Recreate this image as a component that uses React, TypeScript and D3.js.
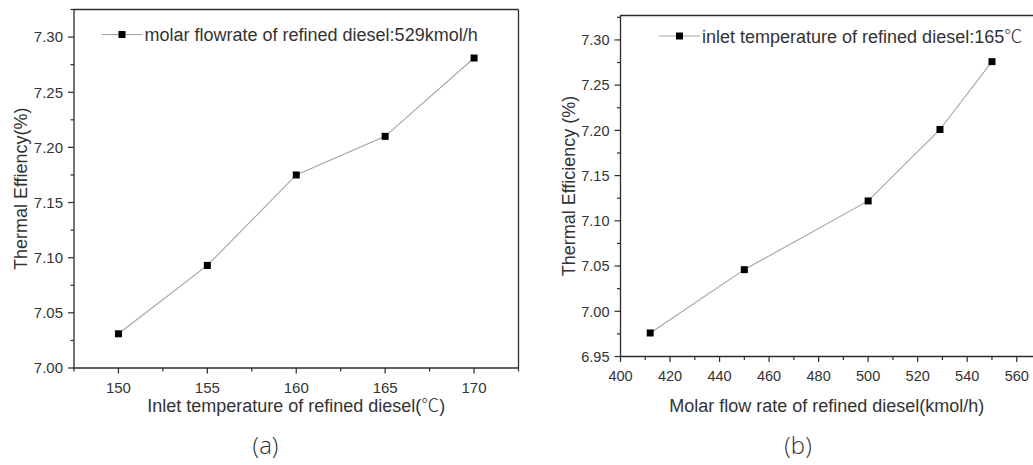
import React from "react";
import * as d3 from "d3";

// Panel (a): thermal efficiency vs inlet temperature
const tempValues = [150, 155, 160, 165, 170];
const effByTemp = [7.031, 7.093, 7.175, 7.21, 7.281];
const tempTicks = [150, 155, 160, 165, 170];
const effTicksA = [7.0, 7.05, 7.1, 7.15, 7.2, 7.25, 7.3];

// Panel (b): thermal efficiency vs molar flow rate
const flowValues = [412, 450, 500, 529, 550];
const effByFlow = [6.976, 7.046, 7.122, 7.201, 7.276];
const flowTicks = [400, 420, 440, 460, 480, 500, 520, 540, 560];
const effTicksB = [6.95, 7.0, 7.05, 7.1, 7.15, 7.2, 7.25, 7.3];

const FONT = "'Liberation Sans', Arial, sans-serif";
const CJK = "'Noto Sans CJK SC', sans-serif";
const TXT = "#333";

function withCelsius(s: string) {
  const parts = s.split("℃");
  const out: React.ReactNode[] = [];
  parts.forEach((part, i) => {
    out.push(<tspan key={"p" + i}>{part}</tspan>);
    if (i < parts.length - 1)
      out.push(
        <tspan key={"c" + i} fontFamily={CJK} fontWeight={300}>
          ℃
        </tspan>
      );
  });
  return out;
}

type PanelProps = {
  xs: number[];
  ys: number[];
  left: number;
  right: number;
  top: number;
  bottom: number;
  xDomain: [number, number];
  yDomain: [number, number];
  xTicks: number[];
  xMinorStep: number;
  yTicks: number[];
  yMinorStep: number;
  rightBorder: boolean;
  xTitle: string;
  yTitle: string;
  yTitleX: number;
  legendText: string;
  legendX: number;
  legendY: number;
  tag: string;
  tagX: number;
  yFontSize: number;
  xLabelOffset: number;
};

function Panel(p: PanelProps) {
  const x = d3.scaleLinear().domain(p.xDomain).range([p.left, p.right]);
  const y = d3.scaleLinear().domain(p.yDomain).range([p.bottom, p.top]);
  const line = d3
    .line<number>()
    .x((_, i) => x(p.xs[i]))
    .y((d) => y(d));

  const xMinor: number[] = [];
  for (let v = p.xTicks[0] - p.xMinorStep; v <= p.xDomain[1] + 1e-9; v += p.xMinorStep) {
    if (v >= p.xDomain[0] - 1e-9 && !p.xTicks.some((t) => Math.abs(t - v) < 1e-9)) xMinor.push(v);
  }
  const yMinor: number[] = [];
  for (let v = p.yTicks[0] - p.yMinorStep; v <= p.yDomain[1] + 1e-9; v += p.yMinorStep) {
    if (v >= p.yDomain[0] - 1e-9 && !p.yTicks.some((t) => Math.abs(t - v) < 1e-9)) yMinor.push(v);
  }
  const axisColor = "#2b2b2b";
  const ms = 7;
  const midX = (p.left + Math.min(p.right, p.rightBorder ? p.right : 1033)) / 2;

  return (
    <g>
      {/* frame */}
      <line x1={p.left} x2={p.left} y1={p.top} y2={p.bottom + 0.6} stroke={axisColor} strokeWidth={1.3} />
      <line x1={p.left - 0.6} x2={p.right} y1={p.bottom} y2={p.bottom} stroke={axisColor} strokeWidth={1.3} />
      <line x1={p.left - 0.6} x2={p.right} y1={p.top} y2={p.top} stroke={axisColor} strokeWidth={1.3} />
      {p.rightBorder && (
        <line x1={p.right} x2={p.right} y1={p.top} y2={p.bottom} stroke={axisColor} strokeWidth={1.3} />
      )}
      {/* y ticks */}
      {p.yTicks.map((t) => (
        <g key={"yt" + t}>
          <line x1={p.left - 6} x2={p.left} y1={y(t)} y2={y(t)} stroke={axisColor} strokeWidth={1.2} />
          <text x={p.left - 11} y={y(t) + 5.3} textAnchor="end" fontFamily={FONT} fontSize={p.yFontSize} fill={TXT}>
            {t.toFixed(2)}
          </text>
        </g>
      ))}
      {yMinor.map((t) => (
        <line key={"ym" + t} x1={p.left - 3.5} x2={p.left} y1={y(t)} y2={y(t)} stroke={axisColor} strokeWidth={1.2} />
      ))}
      {/* x ticks */}
      {p.xTicks.map((t) => (
        <g key={"xt" + t}>
          <line x1={x(t)} x2={x(t)} y1={p.bottom} y2={p.bottom + 5.5} stroke={axisColor} strokeWidth={1.2} />
          <text x={x(t)} y={p.bottom + p.xLabelOffset} textAnchor="middle" fontFamily={FONT} fontSize={p.yFontSize} fill={TXT}>
            {t}
          </text>
        </g>
      ))}
      {xMinor.map((t) => (
        <line key={"xm" + t} x1={x(t)} x2={x(t)} y1={p.bottom} y2={p.bottom + 3.5} stroke={axisColor} strokeWidth={1.2} />
      ))}
      {/* series */}
      <path d={line(p.ys) || ""} fill="none" stroke="#a3a3a3" strokeWidth={1.1} />
      {p.ys.map((v, i) => (
        <rect key={"m" + i} x={x(p.xs[i]) - ms / 2} y={y(v) - ms / 2} width={ms} height={ms} fill="#000" />
      ))}
      {/* legend */}
      <line x1={p.legendX} x2={p.legendX + 41} y1={p.legendY} y2={p.legendY} stroke="#a3a3a3" strokeWidth={1.1} />
      <rect x={p.legendX + 20.5 - ms / 2} y={p.legendY - ms / 2} width={ms} height={ms} fill="#000" />
      <text x={p.legendX + 43} y={p.legendY + 6.5} fontFamily={FONT} fontSize={18} fill={TXT}>
        {withCelsius(p.legendText)}
      </text>
      {/* titles */}
      <text x={midX} y={412} textAnchor="middle" fontFamily={FONT} fontSize={18} fill={TXT}>
        {withCelsius(p.xTitle)}
      </text>
      <text
        transform={`translate(${p.yTitleX},${(p.top + p.bottom) / 2}) rotate(-90)`}
        textAnchor="middle"
        fontFamily={FONT}
        fontSize={18}
        fill={TXT}
      >
        {p.yTitle}
      </text>
      <text x={p.tagX} y={454} textAnchor="middle" fontFamily="'Open Sans', 'Noto Sans', sans-serif" fontWeight={300} fontSize={24} fill={TXT}>
        {p.tag}
      </text>
    </g>
  );
}

export default function App() {
  return (
    <svg width={1033} height={465} style={{ position: "absolute", left: 0, top: 0, background: "#fff" }}>
      <Panel
        xs={tempValues}
        ys={effByTemp}
        left={74}
        right={518.5}
        top={9.5}
        bottom={368}
        xDomain={[147.5, 172.5]}
        yDomain={[7.0, 7.325]}
        xTicks={tempTicks}
        xMinorStep={2.5}
        yTicks={effTicksA}
        yMinorStep={0.025}
        rightBorder={true}
        xTitle="Inlet temperature of refined diesel(℃)"
        yTitle="Thermal Effiency(%)"
        yTitleX={26.5}
        legendText="molar flowrate of refined diesel:529kmol/h"
        legendX={101.5}
        legendY={34.5}
        tag="(a)"
        tagX={265.5}
        yFontSize={15}
        xLabelOffset={24.5}
      />
      <Panel
        xs={flowValues}
        ys={effByFlow}
        left={620.5}
        right={1041.5}
        top={15.5}
        bottom={356.5}
        xDomain={[400, 570]}
        yDomain={[6.95, 7.327]}
        xTicks={flowTicks}
        xMinorStep={10}
        yTicks={effTicksB}
        yMinorStep={0.025}
        rightBorder={false}
        xTitle="Molar flow rate of refined diesel(kmol/h)"
        yTitle="Thermal Efficiency (%)"
        yTitleX={575}
        legendText=" inlet temperature of refined diesel:165℃"
        legendX={659}
        legendY={36}
        tag="(b)"
        tagX={798}
        yFontSize={14.5}
        xLabelOffset={24}
      />
    </svg>
  );
}
